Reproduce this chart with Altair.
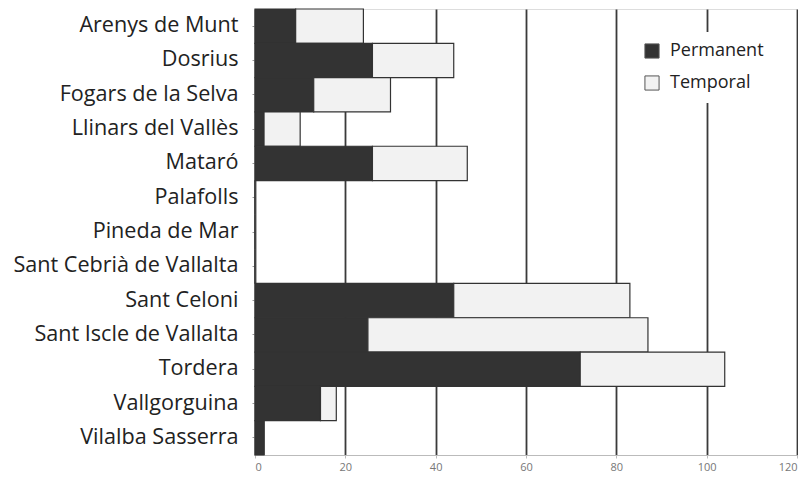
import altair as alt
import pandas as pd

municipis = ["Arenys de Munt", "Dosrius", "Fogars de la Selva", "Llinars del Vallès",
             "Mataró", "Palafolls", "Pineda de Mar", "Sant Cebrià de Vallalta",
             "Sant Celoni", "Sant Iscle de Vallalta", "Tordera", "Vallgorguina",
             "Vilalba Sasserra"]
permanent = [9, 26, 13, 2, 26, 0, 0, 0, 44, 25, 72, 14.5, 2]
temporal = [15, 18, 17, 8, 21, 0, 0, 0, 39, 62, 32, 3.5, 0]
series = ["Permanent", "Temporal"]
x_ticks = [0, 20, 40, 60, 80, 100, 120]

rows = []
for m, p, t in zip(municipis, permanent, temporal):
    rows.append({"Municipi": m, "Tipus": series[0], "Valor": p, "ordre": 0})
    rows.append({"Municipi": m, "Tipus": series[1], "Valor": t, "ordre": 1})
df = pd.DataFrame(rows)

chart = alt.Chart(df).mark_bar(stroke="#333333", strokeWidth=1.2).encode(
    y=alt.Y("Municipi:N", sort=municipis, title=None,
            scale=alt.Scale(paddingInner=0, paddingOuter=0),
            axis=alt.Axis(labelFontSize=21.6, labelFont="Open Sans", labelColor="#222222",
                          labelPadding=14, ticks=True, tickSize=3, tickColor="#999999",
                          domainColor="#999999", labelLimit=400)),
    x=alt.X("Valor:Q", stack="zero", title=None,
            scale=alt.Scale(domain=[0, 120], nice=False),
            axis=alt.Axis(values=x_ticks, grid=True, gridColor="#3a3a3a", gridWidth=1.8,
                          labelFontSize=11, labelColor="#777777", labelFont="Open Sans",
                          labelPadding=3,
                          domainColor="#bbbbbb", tickSize=3, tickColor="#bbbbbb")),
    color=alt.Color("Tipus:N", sort=series,
                    scale=alt.Scale(domain=series, range=["#333333", "#f2f2f2"]),
                    legend=alt.Legend(title=None, orient="none", legendX=378, legendY=23,
                                      symbolType="square", symbolSize=200,
                                      symbolStrokeColor="#555555", symbolStrokeWidth=1,
                                      labelFontSize=18, labelFont="Open Sans",
                                      labelColor="#222222", rowPadding=12, labelOffset=9,
                                      fillColor="white", padding=10)),
    order=alt.Order("ordre:Q"),
).properties(width=542, height=446,
             padding={"left": 4, "top": 0, "right": 0, "bottom": 0}).configure_view(
    stroke="#444444", strokeWidth=1
).configure(background="white")

chart.save("out.html", embed_options={"renderer": "svg", "actions": False})
